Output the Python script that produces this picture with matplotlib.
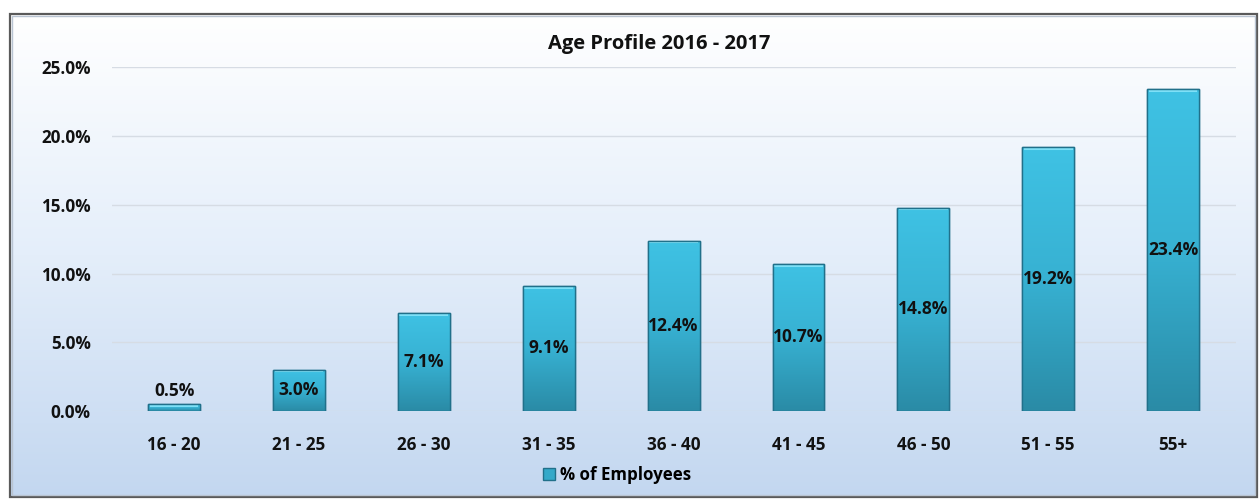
import matplotlib
matplotlib.use('Agg')
import matplotlib.pyplot as plt
import numpy as np
from matplotlib.colors import LinearSegmentedColormap
from matplotlib.patches import Rectangle
from matplotlib.ticker import FuncFormatter, MultipleLocator

age_groups = ['16 - 20', '21 - 25', '26 - 30', '31 - 35', '36 - 40',
              '41 - 45', '46 - 50', '51 - 55', '55+']
pct_employees = [0.5, 3.0, 7.1, 9.1, 12.4, 10.7, 14.8, 19.2, 23.4]
series_name = '% of Employees'
chart_title = 'Age Profile 2016 - 2017'

plt.rcParams['font.family'] = ['Open Sans', 'DejaVu Sans']
plt.rcParams['font.weight'] = 'bold'

W, H = 1260, 500
fig = plt.figure(figsize=(W / 100, H / 100), dpi=100)

# Background panel with a white -> light blue gradient, in pixel coords
bg = fig.add_axes([0, 0, 1, 1], zorder=-10)
bg.set_xlim(0, W)
bg.set_ylim(H, 0)
bg.axis('off')
bg_cmap = LinearSegmentedColormap.from_list('bg', ['#ffffff', '#e4eefa', '#c3d7f0'])
bg.imshow(np.linspace(0, 1, 256).reshape(-1, 1), cmap=bg_cmap, aspect='auto',
          extent=(10, 1257, 497, 14), origin='upper')
bg.add_patch(Rectangle((10, 14), 1247, 483, fill=False, edgecolor='#5a5a5a', linewidth=1.6))
bg.add_patch(Rectangle((12, 16), 1243, 479, fill=False, edgecolor='#b9c4d2', linewidth=1.0))

# Main plot area
ax = fig.add_axes([0.0886, 0.178, 0.892, 0.6874])
ax.patch.set_alpha(0)
x = np.arange(len(age_groups))
bars = ax.bar(x, pct_employees, width=0.415, color='#34a9c9',
              edgecolor='#21708a', linewidth=1.0, zorder=3)

# Vertical gradient fill inside the bars
bar_cmap = LinearSegmentedColormap.from_list('bar', ['#3fc2e4', '#37b1d2', '#2a8ba6'])
grad = np.linspace(0, 1, 128).reshape(-1, 1)
for bar in bars:
    x0, w, h = bar.get_x(), bar.get_width(), bar.get_height()
    im = ax.imshow(grad, cmap=bar_cmap, aspect='auto', origin='upper',
                   extent=(x0, x0 + w, 0, h), zorder=3.5)
    im.set_clip_path(bar)
    # light bevel along the top edge
    ax.plot([x0 + w * 0.03, x0 + w * 0.97], [h - 0.12, h - 0.12],
            color='#7ee0f7', linewidth=1.5, zorder=3.8, solid_capstyle='butt')
    ax.add_patch(Rectangle((x0, 0), w, h, fill=False, edgecolor='#21708a',
                           linewidth=1.0, zorder=4))

ax.set_xlim(-0.5, len(age_groups) - 0.5)
ax.set_ylim(0, 25)
ax.yaxis.set_major_locator(MultipleLocator(5))
ax.yaxis.set_major_formatter(FuncFormatter(lambda v, p: f'{v:.1f}%'))
ax.set_xticks(x)
ax.set_xticklabels(age_groups)
ax.tick_params(axis='both', length=0, labelsize=12.3, colors='#111111')
ax.tick_params(axis='x', pad=18)
ax.tick_params(axis='y', pad=15)
ax.yaxis.grid(True, color='#d6dce4', linewidth=1.0)
ax.set_axisbelow(True)
for s in ax.spines.values():
    s.set_visible(False)

# Data labels: centred in the bar, above it when the bar is too short
for bar, v in zip(bars, pct_employees):
    cx = bar.get_x() + bar.get_width() / 2
    if v > 2:
        ax.text(cx, v / 2, f'{v:.1f}%', ha='center', va='center',
                fontsize=12.5, color='#111111', zorder=6)
    else:
        ax.text(cx, v + 0.3, f'{v:.1f}%', ha='center', va='bottom',
                fontsize=12.5, color='#111111', zorder=6)

fig.text(659 / W, 1 - 44 / H, chart_title, ha='center', va='center',
         fontsize=14.5, color='#111111')

handle = Rectangle((0, 0), 1, 1, facecolor='#34a9c9', edgecolor='#21708a')
fig.legend([handle], [series_name], loc='center', bbox_to_anchor=(617 / W, 1 - 475 / H),
           frameon=False, handlelength=0.7, handleheight=0.7, handletextpad=0.3,
           prop={'size': 12.2, 'weight': 'bold'})

fig.savefig('out.png', dpi=100)
